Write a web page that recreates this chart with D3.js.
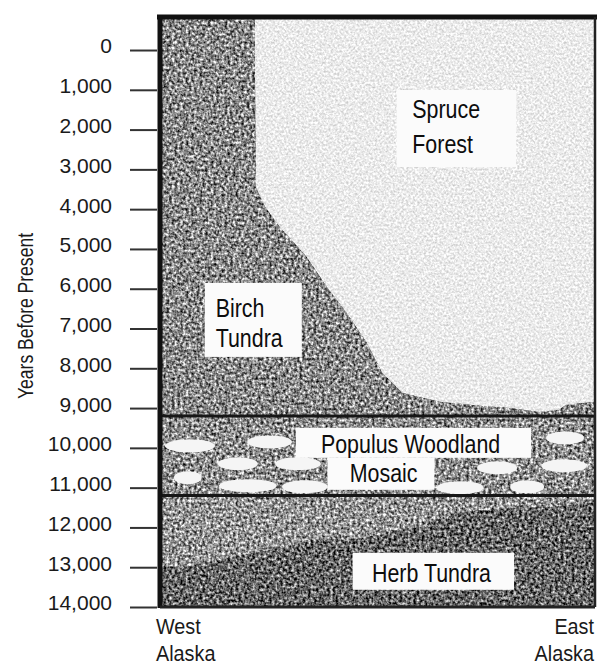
<!DOCTYPE html>
<html>
<head>
<meta charset="utf-8">
<script src="https://cdn.jsdelivr.net/npm/d3@7"></script>
<style>
html, body { margin: 0; padding: 0; background: #fff; }
svg { display: block; font-family: "Liberation Sans", Arial, sans-serif; }
</style>
</head>
<body>
<div id="chart"></div>
<script>
const w = 598;
const h = 666;

// y axis: years before present
const yTicks = [0, 1000, 2000, 3000, 4000, 5000, 6000, 7000, 8000, 9000, 10000, 11000, 12000, 13000, 14000];
const yTop = -830;      // frame starts a bit above "0"
const yBottom = 14000;

// spruce forest / birch tundra front (position along transect, % West -> East)
const spruceEdgeYears = [0, 3440, 3940, 4450, 5200, 5950, 6610, 7360, 8120, 8620, 8840, 8940, 9000, 9100, 9050, 8920, 8840];
const spruceEdgePos = [21.8, 22.0, 24.1, 27.5, 33.7, 38.3, 42.9, 47.5, 51.1, 55.7, 64.2, 73.4, 80.3, 87.2, 91.7, 93.3, 100];

// horizontal zone breaks
const bandBreaks = [9200, 11200];

// herb tundra (dark) upper edge
const herbEdgePos = [0, 6.4, 14.2, 21.8, 29.4, 35.6, 44.7, 52.3, 60.1, 67.7, 75.2, 83.0, 90.6, 100];
const herbEdgeYears = [13010, 12990, 12810, 12640, 12490, 12310, 12310, 12140, 11990, 11630, 11560, 11510, 11480, 11380];

// open patches in the populus woodland mosaic
const patchPos = [6.9, 25.2, 17.9, 31.7, 6.4, 20.2, 33.3, 93.1, 92.9, 77.5, 69.0, 84.4];
const patchYears = [9950, 9850, 10400, 10400, 10750, 10950, 10980, 9750, 10450, 10500, 11000, 10980];
const patchSpan = [11.5, 10.3, 9.2, 10.5, 6.4, 13.3, 10.5, 8.7, 10.5, 9.2, 10.8, 7.8];

const xSides = [['West', 'Alaska'], ['East', 'Alaska']];

const x = d3.scaleLinear().domain([0, 100]).range([160, 595]);
const y = d3.scaleLinear().domain([yTop, yBottom]).range([17, 607]);

const svg = d3.select('#chart').append('svg').attr('width', w).attr('height', h);
const defs = svg.append('defs');

// grainy print texture
const grain = (id, amount, freq, seed) => {
    const f = defs.append('filter').attr('id', id)
        .attr('color-interpolation-filters', 'sRGB')
        .attr('x', 0).attr('y', 0).attr('width', 1).attr('height', 1);
    f.append('feTurbulence').attr('type', 'fractalNoise')
        .attr('baseFrequency', freq).attr('numOctaves', 2).attr('seed', seed).attr('result', 'noise');
    f.append('feColorMatrix').attr('in', 'noise').attr('type', 'matrix')
        .attr('values', '1 0 0 0 0  1 0 0 0 0  1 0 0 0 0  0 0 0 0 1').attr('result', 'g');
    f.append('feComposite').attr('in', 'SourceGraphic').attr('in2', 'g').attr('operator', 'arithmetic')
        .attr('k1', 0).attr('k2', 1).attr('k3', amount).attr('k4', -amount / 2).attr('result', 'mix');
    f.append('feComposite').attr('in', 'mix').attr('in2', 'SourceAlpha').attr('operator', 'in');
};
grain('grainDark', 1.6, 0.36, 3);
grain('grainLight', 0.4, 0.45, 7);

const plot = svg.append('g');

// birch tundra fills the upper band, spruce laid on top of it
plot.append('rect')
    .attr('x', x(0)).attr('y', y(yTop))
    .attr('width', x(100) - x(0)).attr('height', y(bandBreaks[0]) - y(yTop))
    .attr('fill', '#8a8a8a').attr('filter', 'url(#grainDark)');

const spruceData = [{ pos: spruceEdgePos[0], yr: yTop }]
    .concat(spruceEdgePos.map((p, i) => ({ pos: p, yr: spruceEdgeYears[i] })));

const spruceArea = d3.area()
    .y(d => y(d.yr))
    .x0(d => x(d.pos))
    .x1(x(100));

plot.append('path')
    .datum(spruceData)
    .attr('d', spruceArea)
    .attr('fill', '#ebebeb').attr('filter', 'url(#grainLight)');

// populus mosaic band
plot.append('rect')
    .attr('x', x(0)).attr('y', y(bandBreaks[0]))
    .attr('width', x(100) - x(0)).attr('height', y(bandBreaks[1]) - y(bandBreaks[0]))
    .attr('fill', '#8e8e8e').attr('filter', 'url(#grainDark)');

plot.selectAll('ellipse.patch')
    .data(patchPos.map((p, i) => ({ pos: p, yr: patchYears[i], span: patchSpan[i] })))
    .enter().append('ellipse')
    .attr('class', 'patch')
    .attr('cx', d => x(d.pos)).attr('cy', d => y(d.yr))
    .attr('rx', d => (x(d.span) - x(0)) / 2).attr('ry', 6.5)
    .attr('fill', '#f5f5f5');

// herb tundra band
plot.append('rect')
    .attr('x', x(0)).attr('y', y(bandBreaks[1]))
    .attr('width', x(100) - x(0)).attr('height', y(yBottom) - y(bandBreaks[1]))
    .attr('fill', '#959595').attr('filter', 'url(#grainDark)');

const herbArea = d3.area()
    .x(d => x(d.pos))
    .y0(y(yBottom))
    .y1(d => y(d.yr));

plot.append('path')
    .datum(herbEdgePos.map((p, i) => ({ pos: p, yr: herbEdgeYears[i] })))
    .attr('d', herbArea)
    .attr('fill', '#676767').attr('filter', 'url(#grainDark)');

// zone breaks
plot.selectAll('line.break')
    .data(bandBreaks)
    .enter().append('line')
    .attr('class', 'break')
    .attr('x1', x(0)).attr('x2', x(100))
    .attr('y1', d => y(d)).attr('y2', d => y(d))
    .attr('stroke', '#161616').attr('stroke-width', 3);

// frame
plot.append('line').attr('x1', x(0) - 3).attr('x2', x(100) + 2).attr('y1', y(yTop)).attr('y2', y(yTop))
    .attr('stroke', '#111').attr('stroke-width', 5);
plot.append('line').attr('x1', x(0)).attr('x2', x(0)).attr('y1', y(yTop) - 2).attr('y2', y(yBottom) + 1)
    .attr('stroke', '#111').attr('stroke-width', 5);
plot.append('line').attr('x1', x(100)).attr('x2', x(100)).attr('y1', y(yTop)).attr('y2', y(yBottom))
    .attr('stroke', '#222').attr('stroke-width', 2.5);
plot.append('line').attr('x1', x(0)).attr('x2', x(100)).attr('y1', y(yBottom)).attr('y2', y(yBottom))
    .attr('stroke', '#222').attr('stroke-width', 3);

// zone labels on white boxes
const boxes = [
    { p0: 54.4, p1: 81.9, y0: 1005, y1: 2940 },
    { p0: 10.3, p1: 32.6, y0: 5854, y1: 7714 },
    { p0: 31.2, p1: 85.3, y0: 9497, y1: 10251 },
    { p0: 38.5, p1: 63.1, y0: 10251, y1: 11055 },
    { p0: 44.3, p1: 81.4, y0: 12638, y1: 13568 }
];
svg.selectAll('rect.box')
    .data(boxes)
    .enter().append('rect')
    .attr('class', 'box')
    .attr('x', d => x(d.p0)).attr('y', d => y(d.y0))
    .attr('width', d => x(d.p1) - x(d.p0)).attr('height', d => y(d.y1) - y(d.y0))
    .attr('fill', '#fbfbfb');

const labels = [
    { text: 'Spruce', pos: 58.0, yr: 1709, anchor: 'start' },
    { text: 'Forest', pos: 58.0, yr: 2588, anchor: 'start' },
    { text: 'Birch', pos: 12.8, yr: 6709, anchor: 'start' },
    { text: 'Tundra', pos: 12.8, yr: 7462, anchor: 'start' },
    { text: 'Populus Woodland', pos: 57.6, yr: 10126, anchor: 'middle' },
    { text: 'Mosaic', pos: 51.4, yr: 10854, anchor: 'middle' },
    { text: 'Herb Tundra', pos: 62.4, yr: 13367, anchor: 'middle' }
];
svg.selectAll('text.zone')
    .data(labels)
    .enter().append('text')
    .attr('class', 'zone')
    .attr('transform', d => `translate(${x(d.pos)},${y(d.yr)}) scale(0.84,1)`)
    .attr('text-anchor', d => d.anchor)
    .attr('font-size', 25.5)
    .attr('fill', '#0d0d0d')
    .text(d => d.text);

// y axis
const yAxis = d3.axisLeft(y)
    .tickValues(yTicks)
    .tickFormat(d3.format(','))
    .tickSize(27)
    .tickPadding(18);

const ag = svg.append('g').attr('transform', 'translate(157,0)').call(yAxis);
ag.select('.domain').remove();
ag.selectAll('.tick line').attr('stroke', '#333').attr('stroke-width', 2);
ag.selectAll('.tick text')
    .attr('font-size', 21)
    .attr('font-family', '"Liberation Sans", Arial, sans-serif')
    .attr('fill', '#1a1a1a')
    .attr('dy', '0.14em');

svg.append('text')
    .attr('transform', 'translate(33,316) rotate(-90) scale(0.78,1)')
    .attr('text-anchor', 'middle')
    .attr('font-size', 22.5)
    .attr('fill', '#1a1a1a')
    .text('Years Before Present');

// transect ends
xSides.forEach((lines, i) => {
    lines.forEach((t, j) => {
        svg.append('text')
            .attr('transform', `translate(${i === 0 ? 156 : 594},${634 + j * 27}) scale(0.88,1)`)
            .attr('text-anchor', i === 0 ? 'start' : 'end')
            .attr('font-size', 22.5)
            .attr('fill', '#1a1a1a')
            .text(t);
    });
});
</script>
</body>
</html>
